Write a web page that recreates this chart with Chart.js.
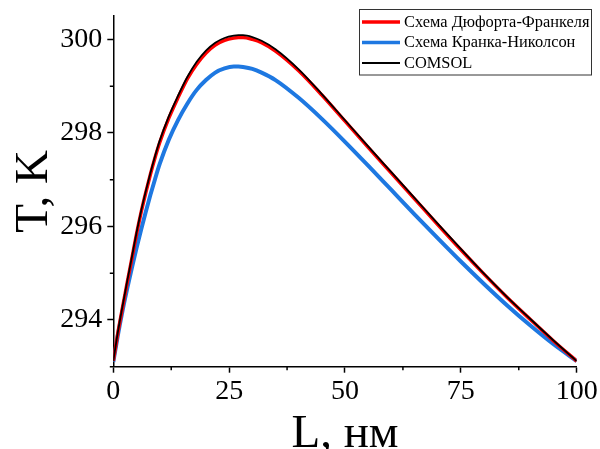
<!DOCTYPE html>
<html>
<head>
<meta charset="utf-8">
<script src="https://cdn.jsdelivr.net/npm/chart.js@4/dist/chart.umd.min.js"></script>
<style>
  html, body { margin: 0; padding: 0; background: #fff; }
  #wrap { width: 600px; height: 449px; position: relative; }
</style>
</head>
<body>
<div id="wrap"><canvas id="c" width="600" height="449"></canvas></div>
<script>
// ---- data ----
const lengthNm = [0,1,2,3,4,5,6,7,8,9,10,12,14,16,18,20,22,24,26,27,28,30,32,35,40,45,50,55,60,65,70,75,80,85,90,95,100];
const dufortFrankel = [293.12,293.73,294.27,294.80,295.31,295.83,296.30,296.72,297.11,297.47,297.79,298.32,298.76,299.16,299.47,299.71,299.88,299.98,300.03,300.04,300.04,300.00,299.93,299.75,299.33,298.81,298.25,297.69,297.14,296.59,296.04,295.50,294.98,294.48,294.01,293.55,293.12];
const crankNicolson = [293.10,293.68,294.20,294.67,295.11,295.53,295.93,296.31,296.67,297.01,297.33,297.86,298.28,298.63,298.92,299.13,299.29,299.38,299.42,299.42,299.41,299.37,299.29,299.13,298.75,298.30,297.81,297.30,296.78,296.26,295.75,295.25,294.77,294.31,293.88,293.48,293.12];
const comsol = [293.12,293.75,294.30,294.83,295.34,295.86,296.33,296.75,297.14,297.50,297.83,298.36,298.80,299.20,299.52,299.76,299.93,300.03,300.08,300.09,300.09,300.05,299.97,299.79,299.36,298.83,298.27,297.71,297.16,296.61,296.06,295.52,294.99,294.49,294.02,293.56,293.12];
const seriesLabels = ['Схема Дюфорта-Франкеля', 'Схема Кранка-Николсон', 'COMSOL'];
const xMajorTicks = [0, 25, 50, 75, 100];
const xMinorTicks = [12.5, 37.5, 62.5, 87.5];
const yMajorTicks = [294, 296, 298, 300];
const yMinorTicks = [293, 295, 297, 299];
const xTitle = 'L, нм';
const yTitle = 'T, K';

const FONT = "'Liberation Serif', 'Times New Roman', serif";

const pts = (ys) => lengthNm.map((x, i) => ({x: x, y: ys[i]}));

const zeroPad = (s) => { s.paddingTop = 0; s.paddingBottom = 0; s.paddingLeft = 0; s.paddingRight = 0; };

const minorTicksPlugin = {
  id: 'minorTicks',
  afterDraw(chart) {
    const ctx = chart.ctx;
    const xs = chart.scales.x, ys = chart.scales.y;
    ctx.save();
    ctx.strokeStyle = '#000';
    ctx.lineWidth = 1.5;
    ctx.beginPath();
    xMinorTicks.forEach(v => {
      const px = xs.getPixelForValue(v);
      ctx.moveTo(px, xs.top);
      ctx.lineTo(px, xs.top + 3.5);
    });
    yMinorTicks.forEach(v => {
      const py = ys.getPixelForValue(v);
      ctx.moveTo(ys.right, py);
      ctx.lineTo(ys.right - 3.5, py);
    });
    ctx.stroke();
    ctx.restore();
  }
};

const boxedLegendPlugin = {
  id: 'boxedLegend',
  afterDraw(chart) {
    const ctx = chart.ctx;
    const ds = chart.data.datasets;
    const order = [0, 1, 2];
    const left = 359.5, top = 9.5, w = 232, h = 65.5;
    ctx.save();
    ctx.fillStyle = '#fff';
    ctx.fillRect(left, top, w, h);
    ctx.strokeStyle = '#333';
    ctx.lineWidth = 1;
    ctx.strokeRect(left, top, w, h);
    ctx.font = '16.4px ' + FONT;
    ctx.textBaseline = 'middle';
    ctx.fillStyle = '#000';
    order.forEach((idx, r) => {
      const d = ds[idx];
      const cy = top + 12.5 + r * 20.5;
      ctx.strokeStyle = d.borderColor;
      ctx.lineWidth = d.legendLineWidth;
      ctx.beginPath();
      ctx.moveTo(362, cy);
      ctx.lineTo(400, cy);
      ctx.stroke();
      ctx.fillText(d.label, 404, cy + 0.5);
    });
    ctx.restore();
  }
};

new Chart(document.getElementById('c'), {
  type: 'line',
  data: {
    datasets: [
      { label: seriesLabels[0], data: pts(dufortFrankel), borderColor: '#ff0000', borderWidth: 3.5, legendLineWidth: 3.5, order: 1 },
      { label: seriesLabels[1], data: pts(crankNicolson), borderColor: 'rgb(30,120,225)', borderWidth: 4, legendLineWidth: 3.5, order: 2 },
      { label: seriesLabels[2], data: pts(comsol), borderColor: '#000000', borderWidth: 1.8, legendLineWidth: 1.8, order: 0 }
    ]
  },
  options: {
    responsive: false,
    animation: false,
    devicePixelRatio: 1,
    elements: {
      point: { radius: 0, hoverRadius: 0 },
      line: { cubicInterpolationMode: 'monotone', fill: false }
    },
    layout: { padding: { top: 16, right: 23.3, bottom: 0, left: 0 } },
    plugins: { legend: { display: false }, tooltip: { enabled: false } },
    scales: {
      x: {
        type: 'linear',
        min: 0, max: 100,
        afterBuildTicks: (s) => { s.ticks = xMajorTicks.map(v => ({value: v})); },
        afterFit: (s) => { s.height = 82.3; zeroPad(s); },
        grid: { display: true, drawOnChartArea: false, drawTicks: true, tickLength: 6, color: '#000', tickWidth: 1.5 },
        border: { display: true, color: '#000', width: 1.5 },
        ticks: { color: '#000', font: { family: FONT, size: 28, lineHeight: 1 }, padding: 5, maxRotation: 0, autoSkip: false },
        title: { display: true, text: xTitle, color: '#000', font: { family: FONT, size: 47, lineHeight: 0.6 }, padding: { top: 0, bottom: 0 } }
      },
      y: {
        type: 'linear',
        min: 293, max: 300.5,
        afterBuildTicks: (s) => { s.ticks = yMajorTicks.map(v => ({value: v})); },
        afterFit: (s) => { s.width = 113.3; zeroPad(s); },
        grid: { display: true, drawOnChartArea: false, drawTicks: true, tickLength: 6, color: '#000', tickWidth: 1.5 },
        border: { display: true, color: '#000', width: 1.5 },
        ticks: { color: '#000', font: { family: FONT, size: 28, lineHeight: 1 }, padding: 5, autoSkip: false },
        title: { display: true, text: yTitle, color: '#000', font: { family: FONT, size: 47, lineHeight: 1.2 }, padding: { top: 6, bottom: 0 } }
      }
    }
  },
  plugins: [minorTicksPlugin, boxedLegendPlugin]
});
</script>
</body>
</html>
